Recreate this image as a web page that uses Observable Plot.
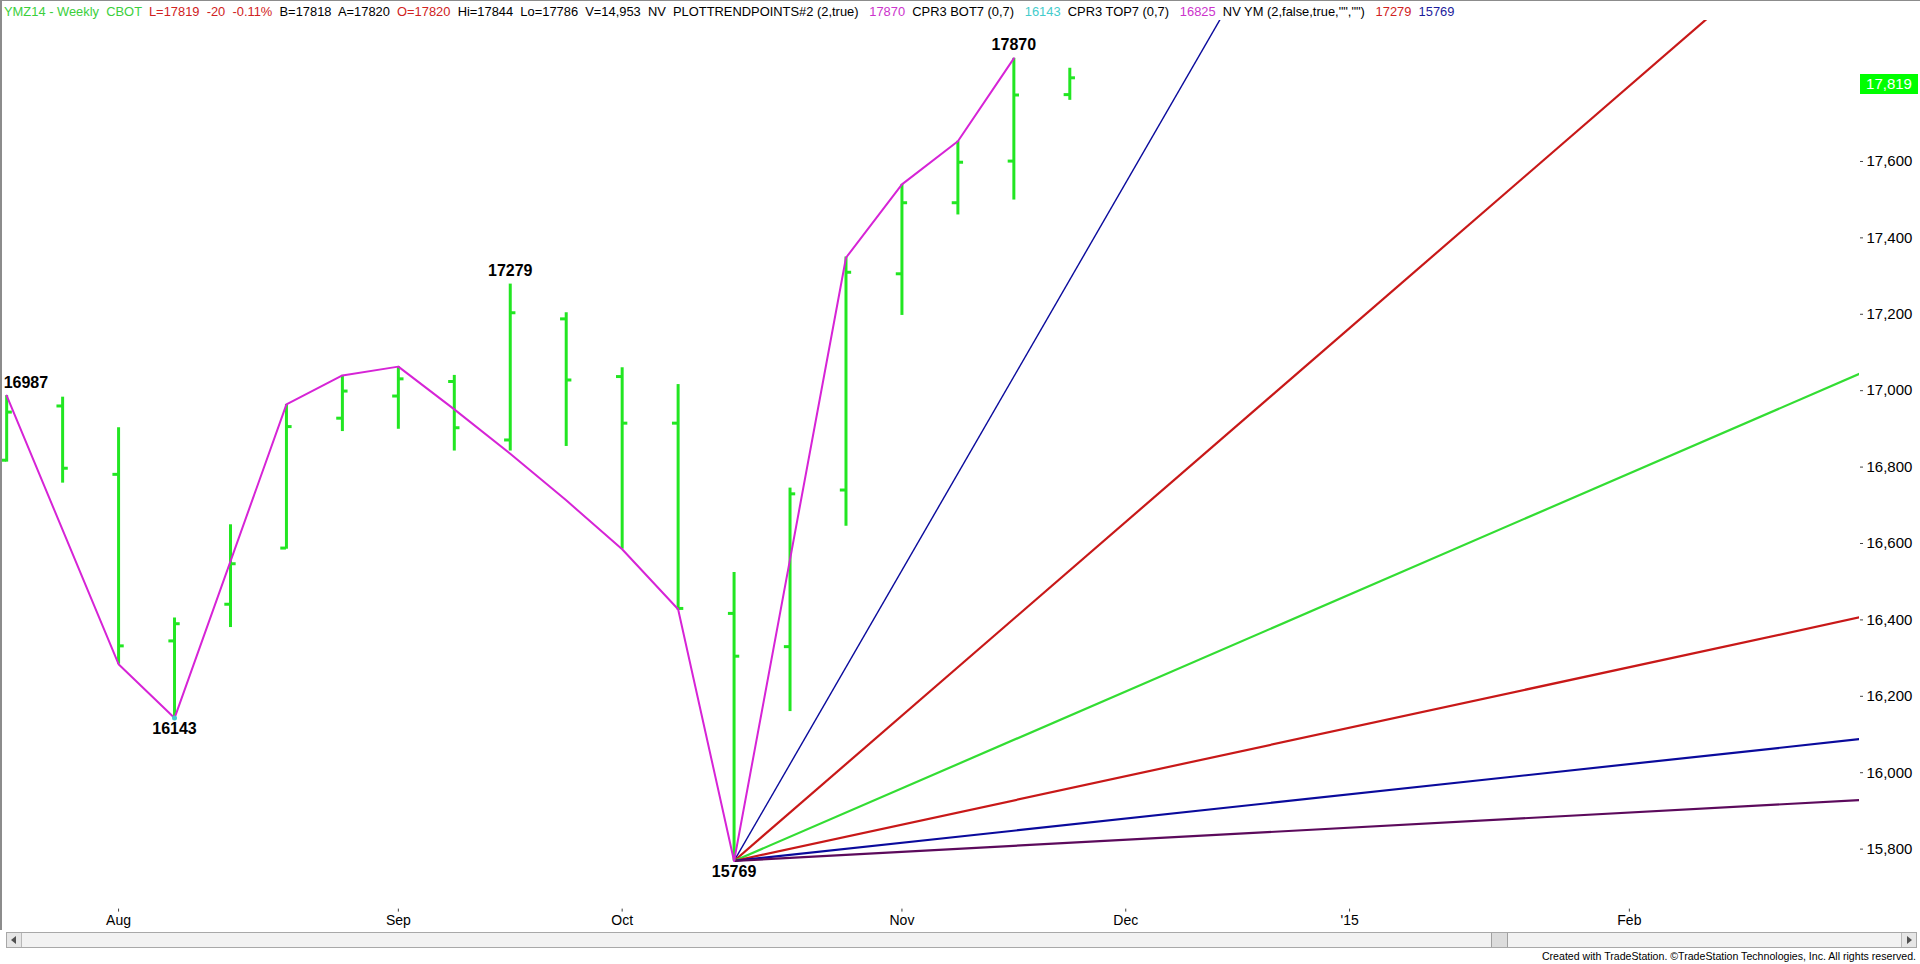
<!DOCTYPE html>
<html>
<head>
<meta charset="utf-8">
<script src="https://cdn.jsdelivr.net/npm/d3@7"></script>
<script src="https://cdn.jsdelivr.net/npm/@observablehq/plot@0.6"></script>
<style>
html,body{margin:0;padding:0;background:#fff;}
#wrap{position:relative;width:1920px;height:964px;overflow:hidden;background:#fff;font-family:Arial,"Liberation Sans",sans-serif;}
#legend{position:absolute;left:4px;top:3px;height:18px;font-size:12.9px;line-height:18px;white-space:pre;color:#000;}
#chart{position:absolute;left:0;top:20px;}
.bl{position:absolute;background:#8c8c8c;}
#scroll{position:absolute;left:6px;top:932px;width:1909px;height:14px;border:1px solid #a8a8a8;background:#f2f2f2;}
.btn{position:absolute;top:0;width:14px;height:14px;background:#e6e6e6;border-right:1px solid #b8b8b8;}
#thumb{position:absolute;top:0;left:1484px;width:15px;height:14px;background:#dcdcdc;border-left:1px solid #a0a0a0;border-right:1px solid #a0a0a0;}
#credit{position:absolute;right:4px;top:949px;font-size:10.6px;line-height:14px;color:#000;white-space:pre;}
#pricebox{position:absolute;left:1860px;width:58px;height:20px;background:#00ff00;color:#fff;font-size:15px;line-height:20px;text-align:center;}
</style>
</head>
<body>
<div id="wrap">
  <div id="legend"></div>
  <div id="chart"></div>
  <div class="bl" style="left:0;top:0;width:1920px;height:1px;"></div>
  <div class="bl" style="left:0;top:0;width:2px;height:930px;"></div>
  <div id="scroll">
    <div class="btn" style="left:0;"><div style="position:absolute;left:4px;top:3px;width:0;height:0;border-top:4px solid transparent;border-bottom:4px solid transparent;border-right:5px solid #505050;"></div></div>
    <div id="thumb"></div>
    <div class="btn" style="right:0;border-right:none;border-left:1px solid #b8b8b8;"><div style="position:absolute;left:5px;top:3px;width:0;height:0;border-top:4px solid transparent;border-bottom:4px solid transparent;border-left:5px solid #505050;"></div></div>
  </div>
  <div id="credit">Created with TradeStation. ©TradeStation Technologies, Inc. All rights reserved.</div>
</div>
<script>
// ---- data ----
const barDates = ["2014-07-18","2014-07-25","2014-08-01","2014-08-08","2014-08-15","2014-08-22","2014-08-29",
  "2014-09-05","2014-09-12","2014-09-19","2014-09-26","2014-10-03","2014-10-10","2014-10-17","2014-10-24",
  "2014-10-31","2014-11-07","2014-11-14","2014-11-21","2014-11-28"];
const opens  = [16818,16960,16781,16345,16441,16588,16928,16986,17024,16871,17188,17037,16915,16417,16330,16740,17306,17492,17601,17775];
const highs  = [16987,16983,16903,16405,16649,16964,17040,17063,17040,17279,17204,17060,17016,16524,16745,17350,17540,17653,17870,17844];
const lows   = [16813,16758,16284,16143,16380,16585,16893,16899,16842,16842,16854,16585,16425,15769,16160,16645,17197,17460,17499,17760];
const closes = [16944,16797,16332,16390,16547,16906,16999,17031,16903,17204,17028,16915,16430,16305,16730,17310,17492,17598,17774,17819];

const swingDates  = ["2014-07-18","2014-08-01","2014-08-08","2014-08-22","2014-08-29","2014-09-05","2014-09-12",
  "2014-09-19","2014-09-26","2014-10-03","2014-10-10","2014-10-17","2014-10-31","2014-11-07","2014-11-14","2014-11-21"];
const swingValues = [16987,16284,16143,16964,17040,17063,16951,16835,16713,16585,16428,15769,17348,17540,17653,17870];

const pivotDates  = ["2014-07-18","2014-08-08","2014-09-19","2014-10-17","2014-11-21"];
const pivotValues = [16987,16143,17279,15769,17870];
const pivotTypes  = ["high","low","high","low","high"];

const fanOriginDate  = "2014-10-17";
const fanOriginValue = 15769;
const fanSlopes = [253.6,126.8,63.4,31.7,15.85,7.92]; // points per week

const yTicks = [15800,16000,16200,16400,16600,16800,17000,17200,17400,17600,17800];
const monthTickDates  = ["2014-08-01","2014-09-05","2014-10-03","2014-11-07","2014-12-05","2015-01-02","2015-02-06"];
const monthTickLabels = ["Aug","Sep","Oct","Nov","Dec","'15","Feb"];
const lastClose = 17819;

const legendParts = [
  ["YMZ14 - Weekly  CBOT  ","g"],["L=17819  -20  -0.11%  ","r"],["B=17818  A=17820  ","k"],["O=17820  ","r"],
  ["Hi=17844  Lo=17786  V=14,953  NV  PLOTTRENDPOINTS#2 (2,true)   ","k"],["17870","m"],["  CPR3 BOT7 (0,7)   ","k"],
  ["16143","c"],["  CPR3 TOP7 (0,7)   ","k"],["16825","m"],["  NV YM (2,false,true,\"\",\"\")   ","k"],["17279","r"],["  ","k"],["15769","b"]
];

// ---- styles ----
const legendColors = {g:"#3ccf3c", r:"#d02222", k:"#000", m:"#cc33cc", c:"#44cccc", b:"#1c1c9c"};
const barColor = "#22e622";
const swingColor = "#d624d6";
const fanColors = ["#0a0a9c","#c81818","#33dd33","#c81818","#0a0a9c","#5c0a5c"];
const fanWidths = [1.4,2.2,2.2,2.2,2.2,2.2];

// ---- build ----
const parse = d3.utcParse("%Y-%m-%d");
const bars = barDates.map((d,i)=>({date:parse(d),open:opens[i],high:highs[i],low:lows[i],close:closes[i]}));
const swing = swingDates.map((d,i)=>({date:parse(d),value:swingValues[i]}));
const pivots = pivotDates.map((d,i)=>({date:parse(d),value:pivotValues[i],type:pivotTypes[i],first:i===0}));
const xStart = new Date("2014-07-17T13:00:00Z");
const xEnd = new Date("2015-03-06T19:00:00Z");
const weekMs = 7*864e5;
const origin = parse(fanOriginDate);
const fans = fanSlopes.map((s,i)=>({x1:origin,y1:fanOriginValue,x2:xEnd,y2:fanOriginValue+s*(xEnd-origin)/weekMs,i}));

const leg = document.getElementById("legend");
legendParts.forEach(([t,c])=>{const s=document.createElement("span");s.textContent=t;s.style.color=legendColors[c];leg.appendChild(s);});

const tickLen = 17; // hours
const labelStyle = {x:"date",y:"value",text:d=>String(d.value),fontWeight:"bold",fontSize:16,fill:"#000"};
const marks = [];
fans.forEach((f,i)=>marks.push(Plot.link([f],{x1:"x1",y1:"y1",x2:"x2",y2:"y2",stroke:fanColors[i],strokeWidth:fanWidths[i],clip:true})));
marks.push(
  Plot.ruleX(bars,{x:"date",y1:"low",y2:"high",stroke:barColor,strokeWidth:3}),
  Plot.ruleY(bars,{y:"open",x1:d=>d3.utcHour.offset(d.date,-tickLen),x2:"date",stroke:barColor,strokeWidth:3}),
  Plot.ruleY(bars,{y:"close",x1:"date",x2:d=>d3.utcHour.offset(d.date,tickLen),stroke:barColor,strokeWidth:3}),
  Plot.line(swing,{x:"date",y:"value",stroke:swingColor,strokeWidth:2}),
  Plot.dot(pivots.filter(d=>d.type==="low"&&d.value===16143),{x:"date",y:"value",r:2.5,fill:"#44cccc",stroke:"none"}),
  Plot.text(pivots.filter(d=>d.type==="high"&&d.first),{...labelStyle,dy:-8,lineAnchor:"bottom",textAnchor:"start",dx:-3}),
  Plot.text(pivots.filter(d=>d.type==="high"&&!d.first),{...labelStyle,dy:-8,lineAnchor:"bottom"}),
  Plot.text(pivots.filter(d=>d.type==="low"),{...labelStyle,dy:5,lineAnchor:"top"}),
  Plot.axisY({anchor:"right",ticks:yTicks,tickFormat:d3.format(","),tickSize:3,tickPadding:4,fontSize:15,line:true,stroke:"#404040",color:"#000"}),
  Plot.axisX({ticks:monthTickDates.map(parse),tickFormat:(d,i)=>monthTickLabels[i],tickSize:3,tickPadding:3,fontSize:14,line:true,stroke:"#404040",color:"#000"})
);

const plot = Plot.plot({
  width:1920, height:910,
  marginLeft:2.5, marginRight:61, marginTop:0, marginBottom:21.4,
  x:{type:"utc",domain:[xStart,xEnd]},
  y:{domain:[15643,17969]},
  style:{fontFamily:"Arial, 'Liberation Sans', sans-serif",background:"transparent",overflow:"visible"},
  marks
});
document.getElementById("chart").appendChild(plot);

const py = plot.scale("y").apply(lastClose);
const box = document.createElement("div");
box.id="pricebox";
box.textContent=d3.format(",")(lastClose);
box.style.top=(20+py-3.5)+"px";
document.getElementById("wrap").appendChild(box);
</script>
</body>
</html>
